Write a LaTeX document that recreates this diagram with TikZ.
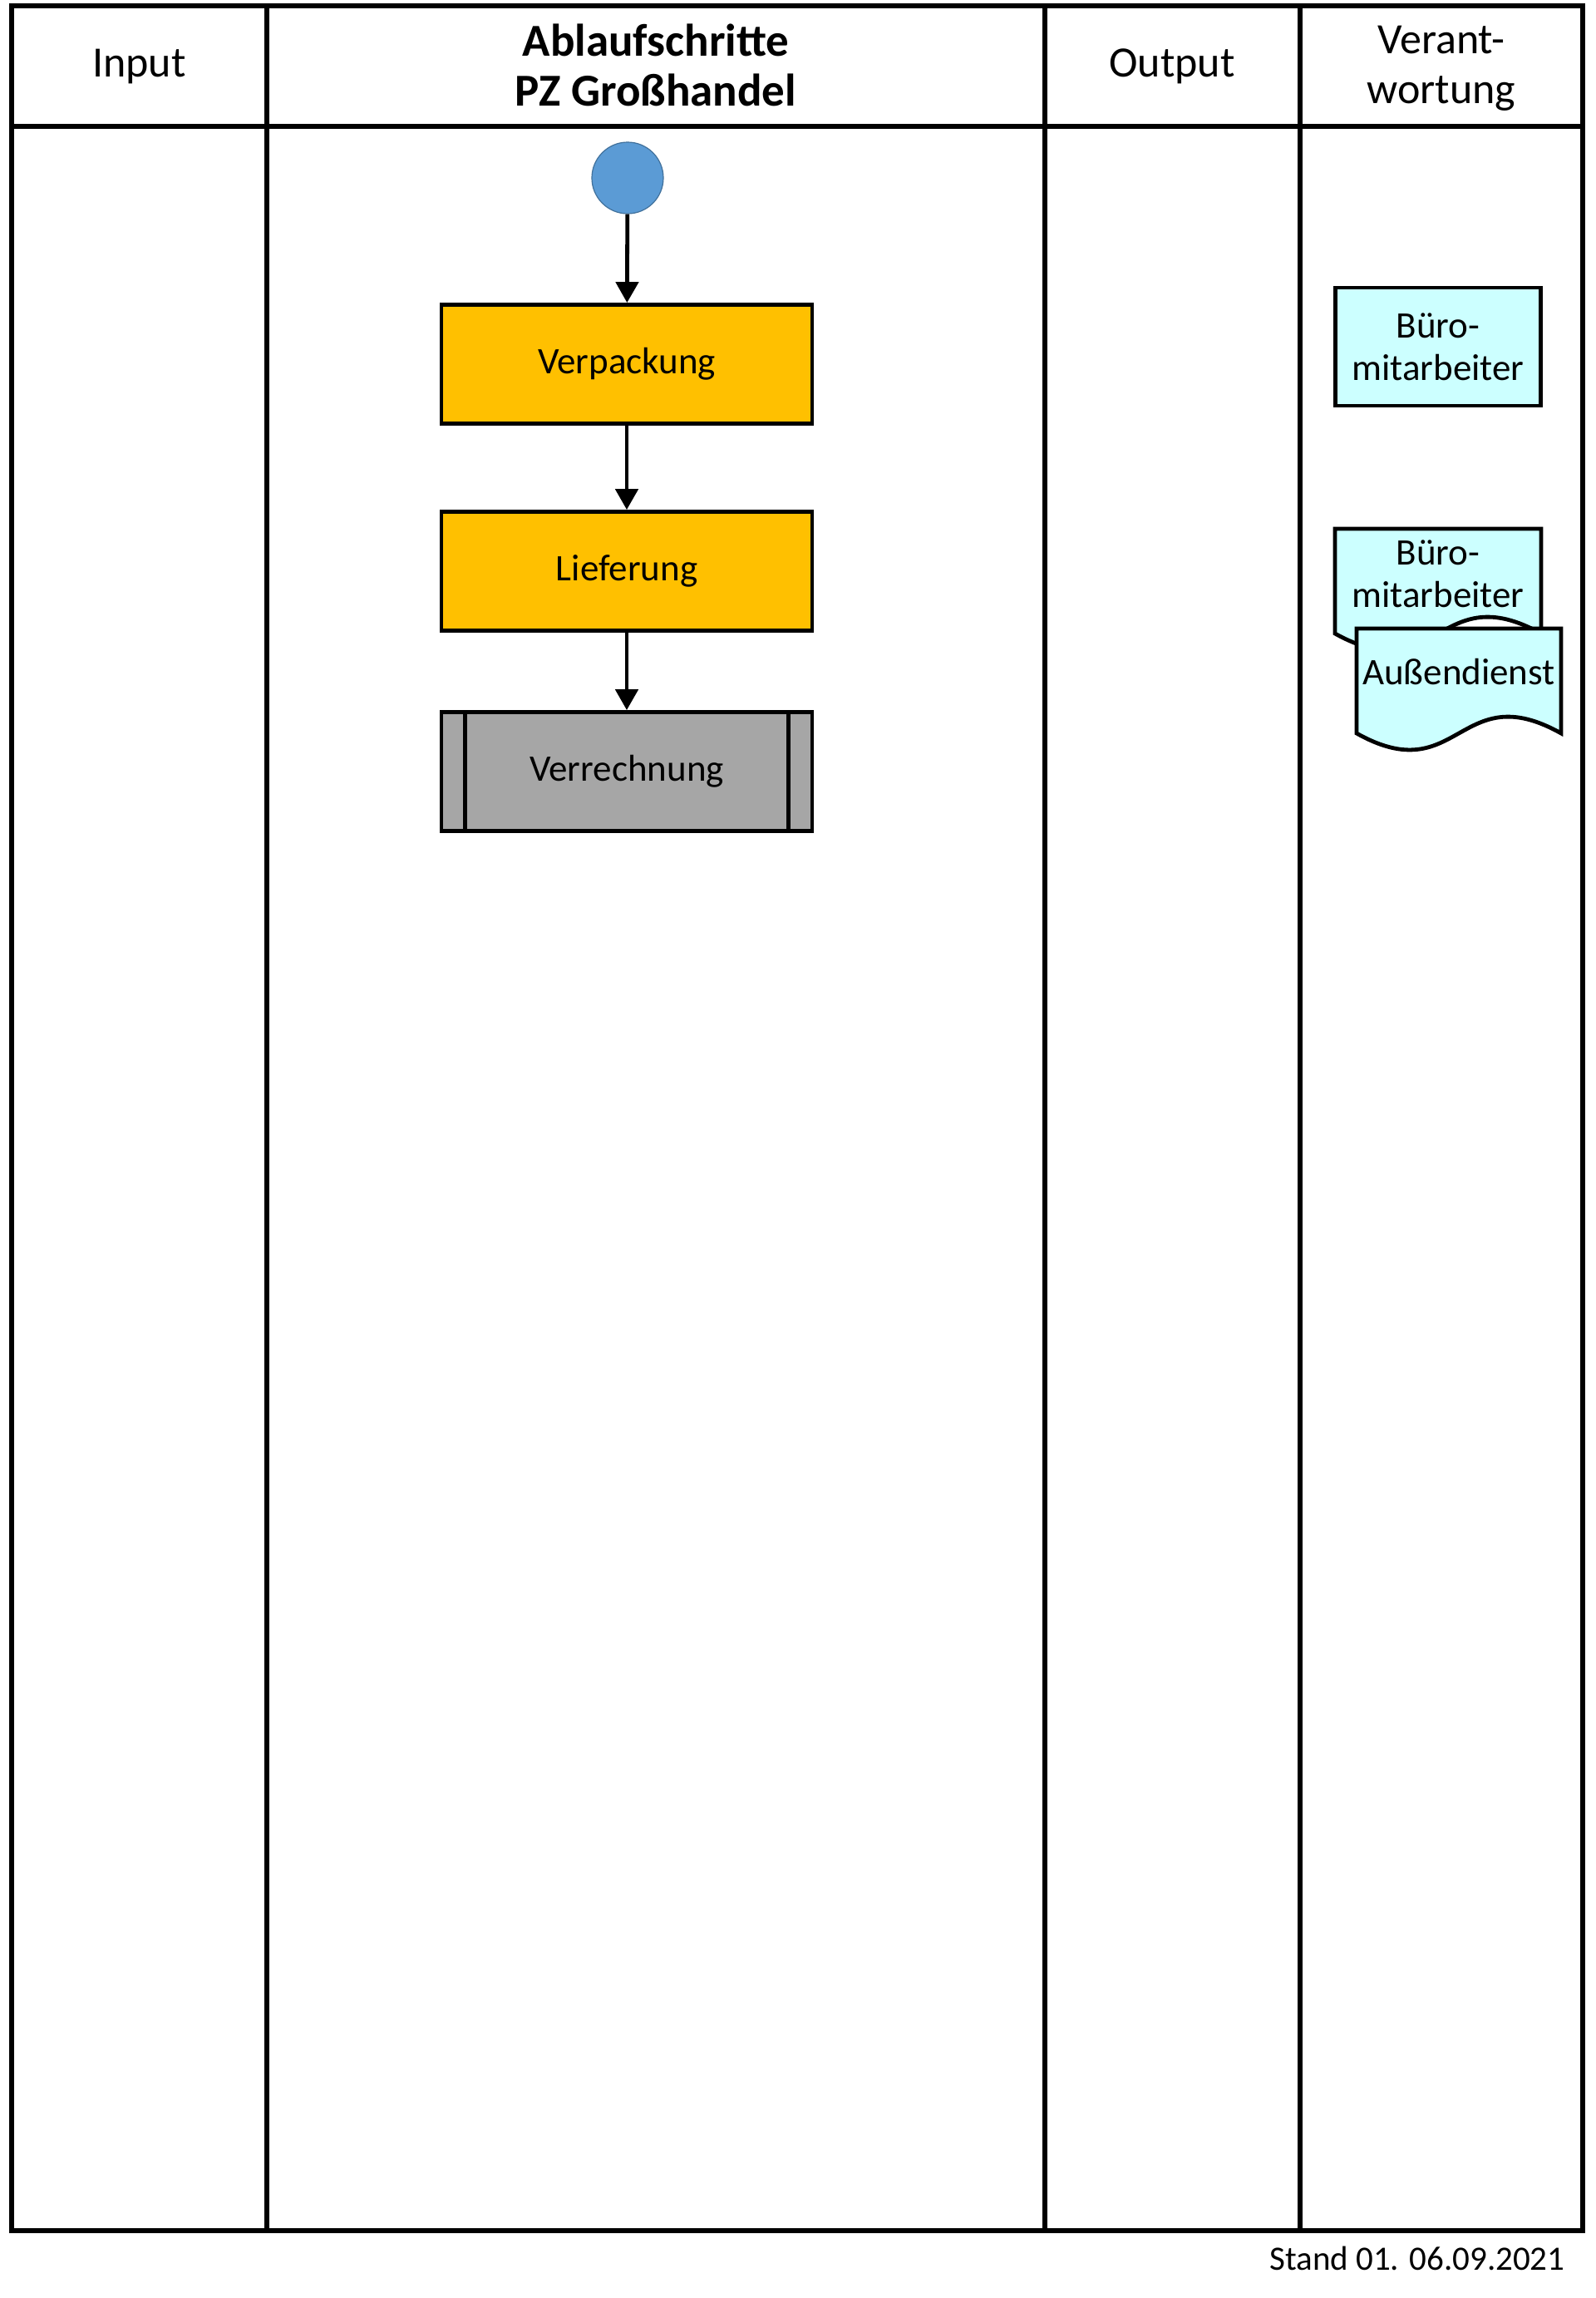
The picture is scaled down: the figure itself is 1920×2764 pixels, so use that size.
\documentclass[tikz,border=0pt]{standalone}
\usepackage{fontspec}
\setmainfont{Carlito}
\usetikzlibrary{arrows.meta}
\definecolor{procgold}{HTML}{FFC000}
\definecolor{subgray}{HTML}{A6A6A6}
\definecolor{startblue}{HTML}{5B9BD5}
\definecolor{startedge}{HTML}{41719C}
\definecolor{rolecyan}{HTML}{CCFFFF}
\begin{document}
\begin{tikzpicture}[x=0.5pt,y=-0.5pt,
  frameline/.style={line width=2.8pt},
  hdr/.style={font=\fontsize{26}{30}\selectfont, align=center, inner sep=0pt},
  boxtext/.style={font=\fontsize{22.5}{25.5}\selectfont, align=center},
  procbox/.style={draw, line width=2.4pt, minimum width=223pt, minimum height=71.5pt, inner sep=0pt, boxtext},
  rolebox/.style={draw, line width=2.4pt, fill=rolecyan, minimum width=123.5pt, minimum height=71pt, inner sep=0pt, boxtext},
  docshape/.style={draw, line width=2.4pt, fill=rolecyan, line join=miter},
  flow/.style={line width=2.4pt, -{Triangle[width=13.5pt,length=12.5pt]}},
  startnode/.style={circle, draw=startedge, line width=0.6pt, fill=startblue, minimum size=43pt, inner sep=0pt}
]
\useasboundingbox (0,0) rectangle (1920,2764);
% table frame
\draw[frameline] (14,7) rectangle (1904,2683);
\draw[frameline] (14,152) -- (1904,152);
\draw[frameline] (321,7) -- (321,2683);
\draw[frameline] (1257,7) -- (1257,2683);
\draw[frameline] (1564,7) -- (1564,2683);
% header
\node[hdr] (hinput) at (167.5,80) {Input};
\node[hdr, font=\fontsize{27.5}{30}\selectfont\bfseries] (hsteps) at (789,78) {Ablaufschritte\\PZ Großhandel};
\node[hdr] (houtput) at (1410,80) {Output};
\node[hdr] (hresp) at (1734,82) {Verant-\\wortung};
% process
\node[startnode] (start) at (755,214) {};
\node[procbox, fill=procgold] (verp) at (754,438) {Verpackung};
\node[procbox, fill=procgold] (lief) at (754,687) {Lieferung};
\node[procbox, fill=subgray] (verr) at (754,928) {Verrechnung};
\draw[line width=2.4pt] ([xshift=15.5pt]verr.north west) -- ([xshift=15.5pt]verr.south west);
\draw[line width=2.4pt] ([xshift=-15.5pt]verr.north east) -- ([xshift=-15.5pt]verr.south east);
\draw[flow] (start) -- (verp);
\draw[flow] (verp) -- (lief);
\draw[flow] (lief) -- (verr);
% responsibilities
\node[rolebox] (role1) at (1730,417) {Büro-\\mitarbeiter};
\draw[docshape] (1606,636) -- (1854,636) -- (1854,762)
  .. controls (1730,693) and (1730,831) .. (1606,762) -- cycle;
\node[boxtext, inner sep=0pt] (role2) at (1730,690) {Büro-\\mitarbeiter};
\draw[docshape] (1632,756) -- (1878,756) -- (1878,882)
  .. controls (1755,813) and (1755,951) .. (1632,882) -- cycle;
\node[boxtext, inner sep=0pt] (role3) at (1755,808) {Außendienst};
% footer
\node[font=\fontsize{20.5}{24}\selectfont, anchor=base east, inner sep=0pt] (stand) at (1883,2730) {Stand 01. 06.09.2021};
\end{tikzpicture}
\end{document}
